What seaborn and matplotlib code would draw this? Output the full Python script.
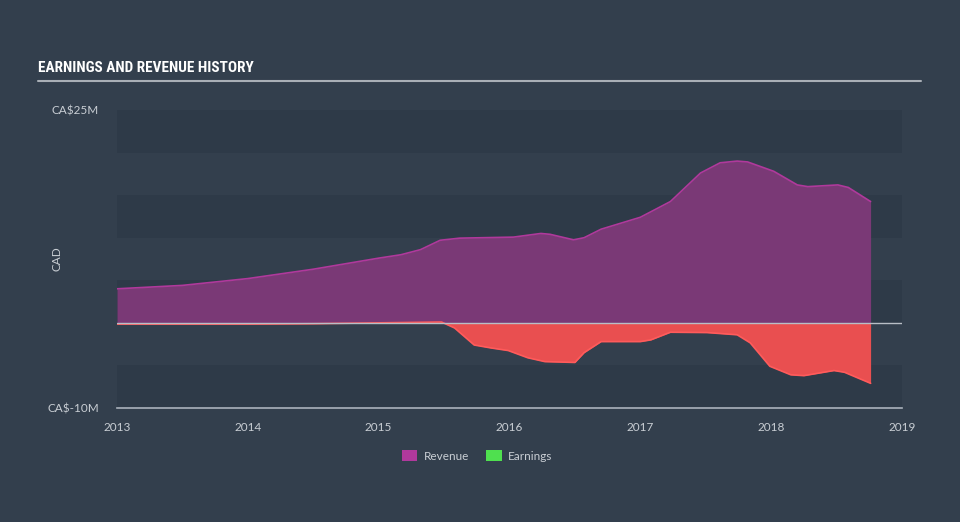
import matplotlib
matplotlib.use("Agg")
import matplotlib.pyplot as plt
import matplotlib.font_manager as fm
import seaborn as sns
import pandas as pd
from matplotlib.patches import Patch

# ---- data (values in CA$ millions, x in decimal years) ----
rev_years = [2013.0, 2013.5, 2014.0, 2014.5, 2015.0, 2015.17, 2015.32, 2015.47, 2015.62,
             2016.03, 2016.24, 2016.31, 2016.49, 2016.57, 2016.70, 2016.85, 2017.0,
             2017.23, 2017.46, 2017.61, 2017.74, 2017.82, 2018.02, 2018.20, 2018.28,
             2018.51, 2018.59, 2018.76]
revenue = [4.0, 4.4, 5.2, 6.3, 7.6, 8.0, 8.6, 9.7, 9.95,
           10.07, 10.5, 10.4, 9.75, 10.0, 11.0, 11.7, 12.4,
           14.25, 17.6, 18.8, 19.0, 18.9, 17.8, 16.2, 16.0,
           16.2, 15.9, 14.25]

earn_years = [2013.0, 2013.5, 2014.0, 2014.5, 2015.0, 2015.48, 2015.58, 2015.73, 2015.86,
              2015.99, 2016.14, 2016.27, 2016.50, 2016.57, 2016.70, 2017.0, 2017.08,
              2017.23, 2017.51, 2017.74, 2017.84, 2017.99, 2018.15, 2018.25, 2018.48,
              2018.56, 2018.76]
earnings = [-0.15, -0.15, -0.15, -0.1, 0.0, 0.1, -0.6, -2.6, -2.95,
            -3.25, -4.1, -4.55, -4.65, -3.5, -2.2, -2.2, -2.0,
            -1.1, -1.14, -1.4, -2.35, -5.1, -6.1, -6.2, -5.6,
            -5.8, -7.1]

y_ticks = [-10, 25]
y_ticklabels = ["CA\\$-10M", "CA\\$25M"]
x_ticks = [2013, 2014, 2015, 2016, 2017, 2018, 2019]

BG = "#333f4d"
DARK = "#2e3a48"
TXT = "#c9ced4"
REV_LINE = "#b0399c"
REV_FILL = "#7a3976"
ERN_LINE = "#ff5b5b"
ERN_FILL = "#e94f50"

sns.set_theme(style="dark")
plt.rcParams["font.family"] = ["Lato", "DejaVu Sans"]

# pick a condensed font for the title if one is installed
names = {f.name for f in fm.fontManager.ttflist}
title_fams = [n for n in ("Roboto Condensed", "Open Sans Condensed", "Liberation Sans Narrow",
                          "DejaVu Sans Condensed") if n in names]
cond_dejavu = [f for f in fm.fontManager.ttflist
               if f.name == "DejaVu Sans" and f.stretch == "condensed" and f.weight in ("bold", 700)]
title_stretch = "condensed" if (not title_fams and cond_dejavu) else "normal"
title_fams = title_fams + ["DejaVu Sans"]

fig = plt.figure(figsize=(9.6, 5.22), dpi=100, facecolor=BG)
ax = fig.add_axes([117 / 960, 1 - 408 / 522, (902 - 117) / 960, (408 - 110) / 522])
ax.set_facecolor(BG)

# alternating bands
for lo in (20, 10, 0, -10):
    ax.axhspan(lo, lo + 5, color=DARK, zorder=0, lw=0)

rev_df = pd.DataFrame({"year": rev_years, "value": revenue})
ern_df = pd.DataFrame({"year": earn_years, "value": earnings})

ax.fill_between(rev_df["year"], 0, rev_df["value"], color=REV_FILL, lw=0, zorder=2)
ax.fill_between(ern_df["year"], 0, ern_df["value"], color=ERN_FILL, lw=0, zorder=2)
sns.lineplot(data=rev_df, x="year", y="value", ax=ax, color=REV_LINE, lw=1.2, zorder=3)
sns.lineplot(data=ern_df, x="year", y="value", ax=ax, color=ERN_LINE, lw=1.2, zorder=3)

ax.axhline(0, color="#b8bec6", lw=1.0, zorder=4)

ax.set_xlim(2013, 2019)
ax.set_ylim(-10, 25)
ax.set_xticks(x_ticks)
ax.set_xticklabels([str(x) for x in x_ticks], color=TXT, fontsize=8.5)
ax.set_yticks(y_ticks)
ax.set_yticklabels(y_ticklabels, color=TXT, fontsize=8.5)
ax.tick_params(axis="x", length=7, width=1, color="#aab2bc", pad=3, direction="out")
ax.tick_params(axis="y", length=0, pad=13)
ax.set_xlabel("")
ax.set_ylabel("CAD", color=TXT, fontsize=8.5)
ax.yaxis.set_label_coords(-0.07, 0.5)

for s in ("top", "right", "left"):
    ax.spines[s].set_visible(False)
ax.spines["bottom"].set_color("#aab2bc")
ax.spines["bottom"].set_linewidth(1.2)
ax.grid(False)

# title + underline
fig.text(38 / 960, 1 - 68 / 522, "EARNINGS AND REVENUE HISTORY", color="white",
         fontsize=11, fontweight="bold", va="center", ha="left",
         family=title_fams, fontstretch=title_stretch)
fig.add_artist(plt.Line2D([38 / 960, 921 / 960], [1 - 81 / 522, 1 - 81 / 522],
                          color="#a9afb6", lw=1.5))

# legend
handles = [Patch(facecolor=REV_LINE, edgecolor="none", label="Revenue"),
           Patch(facecolor="#4fe04f", edgecolor="none", label="Earnings")]
fig.legend(handles=handles, loc="center", bbox_to_anchor=(0.497, 1 - 456 / 522), ncol=2,
           frameon=False, fontsize=8.5, labelcolor=TXT, handlelength=1.3,
           handleheight=1.0, columnspacing=1.5, handletextpad=0.5)

fig.savefig("out.png", dpi=100, facecolor=BG)
